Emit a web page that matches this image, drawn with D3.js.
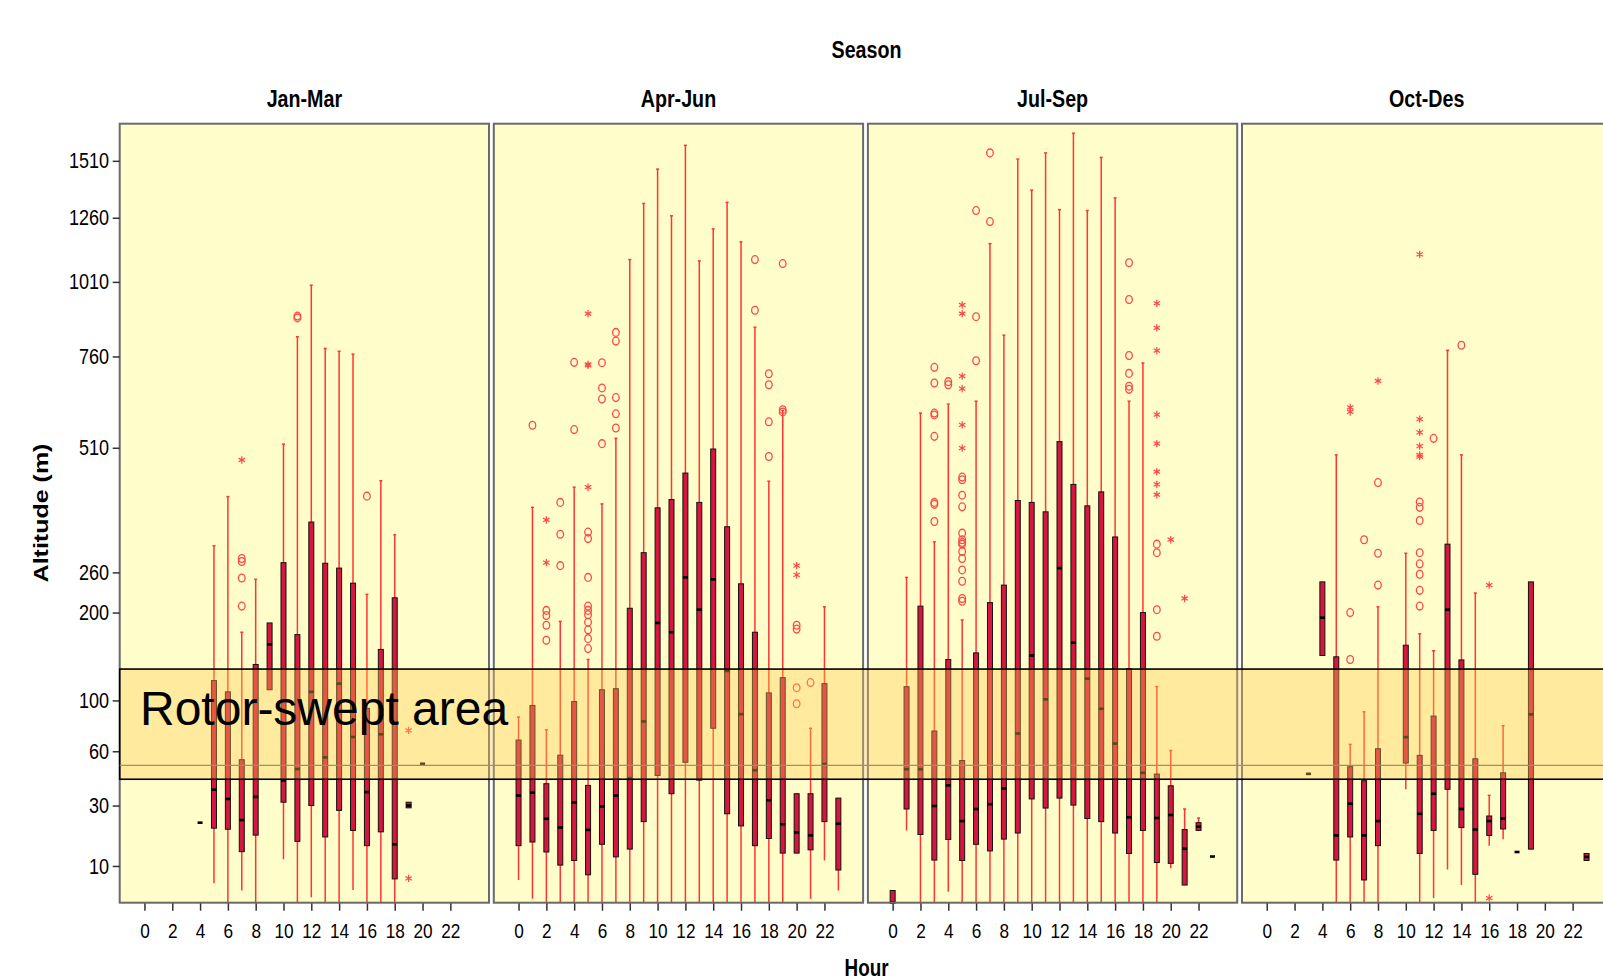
<!DOCTYPE html>
<html>
<head>
<meta charset="utf-8">
<script src="https://cdn.jsdelivr.net/npm/d3@7"></script>
<style>
  body { margin: 0; background: #fff; }
  svg { display: block; }
  text { font-family: "Liberation Sans", Arial, sans-serif; }
</style>
</head>
<body>
<div class="chart"></div>
<script>
//categories and ticks//
let seasons = ['Jan-Mar', 'Apr-Jun', 'Jul-Sep', 'Oct-Des'];
let hours = [0, 1, 2, 3, 4, 5, 6, 7, 8, 9, 10, 11, 12, 13, 14, 15, 16, 17, 18, 19, 20, 21, 22, 23];
let hourTicks = [0, 2, 4, 6, 8, 10, 12, 14, 16, 18, 20, 22];
let altTicks = [10, 30, 60, 100, 200, 260, 510, 760, 1010, 1260, 1510];
let rotorBand = [43, 131];
let refLine = 51;

// [hour, low whisker, q1, median, q3, high whisker]
let janMarBoxes = [
    [4, 23, 23, 23, 23, 23],
    [5, 6.5, 21, 37.5, 119, 305],
    [6, 0, 20.6, 33, 108, 400],
    [7, 5.3, 13.6, 24, 54.5, 174],
    [8, 0, 18.6, 34, 136, 249],
    [9, 110, 110, 159, 186, 186],
    [10, 11.6, 31.5, 42.3, 276, 519],
    [11, 0, 16.6, 48.8, 171, 822],
    [12, 4.3, 30, 108, 349, 998],
    [13, 0, 18, 56, 275, 785],
    [14, 0, 27.9, 116, 267, 776],
    [15, 5.4, 20.2, 70, 243, 767],
    [16, 0, 15.3, 36.3, 93, 226],
    [17, 0, 19.7, 72, 153, 434],
    [18, 0, 7.3, 15.7, 221, 325],
    [19, 29, 29, 30, 31.5, 31.5],
    [20, 52, 52, 52, 52, 52]
];
let janMarOutliers = [[7, 283], [7, 278], [7, 251], [7, 209], [11, 890], [11, 884], [16, 401]];
let janMarExtremes = [[7, 481], [19, 75], [19, 7.4]];

let aprJunBoxes = [
    [0, 7.1, 15.3, 34.6, 67.8, 85.6],
    [1, 4.1, 16.4, 36, 95.5, 378],
    [2, 0, 13.5, 24.5, 40.6, 75.4],
    [3, 0, 10.2, 21.2, 57.4, 188],
    [4, 0, 11.3, 31.4, 99, 420],
    [5, 0, 8.1, 20.4, 39.7, 141.5],
    [6, 0, 15.7, 29.6, 110, 385],
    [7, 0, 12.2, 34.6, 111, 533],
    [8, 0, 14.3, 43.4, 206, 1093],
    [9, 0, 23.4, 82, 293, 1320],
    [10, 0, 45.1, 186, 377, 1472],
    [11, 0, 35.5, 174, 394, 1268],
    [12, 0, 52.9, 252, 451, 1583],
    [13, 0, 42.5, 204, 388, 1088],
    [14, 0, 76.6, 249, 507, 1214],
    [15, 0, 26.5, 129, 340, 1325],
    [16, 0, 21.8, 88, 242, 1162],
    [17, 0, 15.3, 48.1, 174, 853],
    [18, 0, 17.5, 32.4, 107, 433],
    [19, 0, 13.2, 22.4, 122, 605],
    [20, 13.2, 13.2, 19.5, 35.5, 35.5],
    [21, 4.1, 14.1, 18.5, 35.5, 76.6],
    [22, 11.3, 23.4, 51.8, 116, 208],
    [23, 5.3, 9.1, 22.6, 33.4, 33.4]
];
let aprJunOutliers = [
    [1, 566],
    [2, 203], [2, 196], [2, 183], [2, 164],
    [3, 388], [3, 326], [3, 271],
    [4, 742], [4, 555],
    [5, 330], [5, 318], [5, 252], [5, 209], [5, 203], [5, 197], [5, 187], [5, 177], [5, 166], [5, 154],
    [6, 741], [6, 667], [6, 636], [6, 520],
    [7, 836], [7, 808], [7, 640], [7, 596], [7, 559],
    [17, 1093], [17, 910],
    [18, 708], [18, 676], [18, 575], [18, 489],
    [19, 1078], [19, 607], [19, 601],
    [20, 183], [20, 178], [20, 112], [20, 97],
    [21, 117]
];
let aprJunExtremes = [[2, 353], [2, 276], [5, 898], [5, 736], [5, 733], [5, 420], [20, 271], [20, 256]];

let julSepBoxes = [
    [0, 0, 0, 0, 5.3, 5.3],
    [1, 20.2, 28.5, 48.7, 113, 252],
    [2, 0, 18.8, 48.7, 209, 598],
    [3, 0, 11.4, 29.8, 74.5, 312],
    [4, 5.1, 17.2, 39.7, 141.5, 622],
    [5, 0, 11.3, 23.6, 54, 190],
    [6, 0, 15.7, 28.5, 149, 630],
    [7, 0, 13.8, 30.6, 214, 1155],
    [8, 0, 17.3, 38.1, 240, 827],
    [9, 0, 19.3, 72.6, 392, 1518],
    [10, 0, 33, 146, 388, 1378],
    [11, 0, 28.9, 101, 369, 1547],
    [12, 0, 33.4, 267, 525, 1294],
    [13, 0, 30.2, 161, 426, 1641],
    [14, 0, 24.6, 121, 381, 1290],
    [15, 0, 23.4, 92.6, 410, 1526],
    [16, 0, 19.3, 65.3, 321, 1344],
    [17, 0, 13.1, 25.1, 131.5, 630],
    [18, 0, 20.2, 46.6, 200, 740],
    [19, 0, 10.8, 24.8, 45.9, 113],
    [20, 9.5, 10.6, 26, 39.5, 60.5],
    [21, 6.2, 6.2, 14.4, 20.5, 28.5],
    [22, 20, 20.2, 21.5, 23, 24.8],
    [23, 12.3, 12.3, 12.3, 12.3, 12.3]
];
let julSepOutliers = [
    [3, 727], [3, 681], [3, 598], [3, 593], [3, 538], [3, 388], [3, 384], [3, 350],
    [4, 685], [4, 676],
    [5, 442], [5, 436], [5, 403], [5, 379], [5, 328], [5, 316], [5, 311], [5, 308], [5, 295], [5, 283], [5, 264], [5, 246], [5, 220], [5, 216],
    [6, 1290], [6, 888], [6, 747],
    [7, 1547], [7, 1244],
    [17, 1081], [17, 947], [17, 763], [17, 709], [17, 672], [17, 663],
    [19, 308], [19, 293], [19, 204], [19, 169]
];
let julSepExtremes = [
    [5, 928], [5, 898], [5, 701], [5, 665], [5, 567], [5, 509],
    [19, 934], [19, 851], [19, 778], [19, 594], [19, 520], [19, 454], [19, 426], [19, 404],
    [20, 316], [21, 220]
];

let octDesBoxes = [
    [3, 46, 46, 46, 46, 46],
    [4, 146, 146, 193, 245, 245],
    [5, 0, 11.4, 18.5, 144.5, 493],
    [6, 0, 18, 30.8, 50.2, 64.7],
    [7, 0, 7.1, 18.5, 42.2, 90],
    [8, 0, 15.3, 23.6, 61.7, 208],
    [10, 37.7, 52.4, 69.9, 158, 292],
    [11, 0, 13.1, 26.5, 57.3, 172],
    [12, 4.2, 20.2, 35.5, 86.4, 151.5],
    [13, 9.2, 37.7, 204, 308, 779],
    [14, 6.2, 21.2, 28.5, 141, 493],
    [15, 0, 8.2, 20.5, 55.1, 228],
    [16, 15.3, 18.5, 23.6, 25.6, 34.7],
    [17, 17.3, 20.7, 24.6, 46.6, 78.6],
    [18, 13.5, 13.5, 13.5, 13.5, 13.5],
    [19, 14.3, 14.3, 87.8, 245, 245],
    [23, 11.3, 11.3, 12.2, 13.1, 13.1]
];
let octDesOutliers = [
    [6, 200], [6, 141.5],
    [7, 316],
    [8, 430], [8, 292], [8, 240],
    [11, 389], [11, 378], [11, 352], [11, 293], [11, 274], [11, 257], [11, 232], [11, 209],
    [12, 533],
    [14, 795]
];
let octDesExtremes = [
    [6, 613], [6, 601],
    [8, 687],
    [11, 1113], [11, 582], [11, 548], [11, 514], [11, 493], [11, 489],
    [16, 240], [16, 4.2]
];

let boxSets = [janMarBoxes, aprJunBoxes, julSepBoxes, octDesBoxes];
let outlierSets = [janMarOutliers, aprJunOutliers, julSepOutliers, octDesOutliers];
let extremeSets = [janMarExtremes, aprJunExtremes, julSepExtremes, octDesExtremes];

//layout//
let w = 1603;
let h = 980;
let plotTop = 123.7;
let plotBottom = 902.7;
let panelLeft = 119.7;
let panelW = 369.3;
let panelGap = 4.8;
let squeeze = 'scale(0.82,1)';

let svg = d3.select('.chart')
    .append('svg')
    .attr('width', w)
    .attr('height', h);

let yScale = d3.scalePow()
    .exponent(0.4)
    .domain([3.6, 1688])
    .range([plotBottom, plotTop])
    .clamp(true);

let xScale = d3.scalePoint()
    .domain(hours)
    .range([0, panelW])
    .padding(1.78);

let star = d3.symbol().type(d3.symbolAsterisk || d3.symbolStar).size(38);

//titles//
svg.append('text')
    .attr('transform', 'translate(866.5,58) ' + squeeze)
    .attr('text-anchor', 'middle')
    .style('font-size', '24px')
    .style('font-weight', 'bold')
    .text('Season');

svg.append('text')
    .attr('transform', 'translate(866.5,976) ' + squeeze)
    .attr('text-anchor', 'middle')
    .style('font-size', '23px')
    .style('font-weight', 'bold')
    .text('Hour');

svg.append('text')
    .attr('transform', 'translate(48,513) scale(0.82,1) rotate(-90)')
    .attr('text-anchor', 'middle')
    .style('font-size', '25px')
    .style('font-weight', 'bold')
    .text('Altitude (m)');

let panels = svg.selectAll('g.panel')
    .data(seasons)
    .enter()
    .append('g')
    .attr('class', 'panel')
    .attr('transform', (d, i) => 'translate(' + (panelLeft + i * (panelW + panelGap)) + ',0)');

panels.append('rect')
    .attr('x', 0)
    .attr('y', plotTop)
    .attr('width', panelW)
    .attr('height', plotBottom - plotTop)
    .style('fill', '#fffdca');

panels.append('text')
    .attr('transform', 'translate(' + panelW / 2 + ',107) ' + squeeze)
    .attr('text-anchor', 'middle')
    .style('font-size', '24px')
    .style('font-weight', 'bold')
    .text(d => d);

panels.each(function (season, i) {
    let g = d3.select(this);
    let boxes = boxSets[i];

    // whiskers
    g.selectAll('line.whisker')
        .data(boxes)
        .enter()
        .append('line')
        .attr('class', 'whisker')
        .attr('x1', d => xScale(d[0]))
        .attr('x2', d => xScale(d[0]))
        .attr('y1', d => yScale(d[1]))
        .attr('y2', d => yScale(d[5]))
        .style('stroke', '#ff3535')
        .style('stroke-width', 1.5);

    g.selectAll('line.cap')
        .data(boxes.filter(d => d[5] > d[4]))
        .enter()
        .append('line')
        .attr('class', 'cap')
        .attr('x1', d => xScale(d[0]) - 1.5)
        .attr('x2', d => xScale(d[0]) + 1.5)
        .attr('y1', d => yScale(d[5]))
        .attr('y2', d => yScale(d[5]))
        .style('stroke', '#ff3535')
        .style('stroke-width', 1.5);

    // boxes
    g.selectAll('rect.box')
        .data(boxes)
        .enter()
        .append('rect')
        .attr('class', 'box')
        .attr('x', d => xScale(d[0]) - 2.5)
        .attr('y', d => yScale(d[4]))
        .attr('width', 5)
        .attr('height', d => yScale(d[2]) - yScale(d[4]))
        .style('fill', '#d7163f')
        .style('stroke', '#111')
        .style('stroke-width', 1);

    // medians
    g.selectAll('rect.median')
        .data(boxes)
        .enter()
        .append('rect')
        .attr('class', 'median')
        .attr('x', d => xScale(d[0]) - 2.5)
        .attr('y', d => yScale(d[3]) - 1.3)
        .attr('width', 5)
        .attr('height', 2.6)
        .style('fill', '#000');

    // outliers
    g.selectAll('ellipse.outlier')
        .data(outlierSets[i])
        .enter()
        .append('ellipse')
        .attr('class', 'outlier')
        .attr('cx', d => xScale(d[0]))
        .attr('cy', d => yScale(d[1]))
        .attr('rx', 3.3)
        .attr('ry', 3.9)
        .style('fill', 'none')
        .style('stroke', '#ff4646')
        .style('stroke-width', 1.3);

    // extremes
    g.selectAll('path.extreme')
        .data(extremeSets[i])
        .enter()
        .append('path')
        .attr('class', 'extreme')
        .attr('d', star)
        .attr('transform', d => 'translate(' + xScale(d[0]) + ',' + yScale(d[1]) + ')')
        .style('fill', '#ff4646')
        .style('stroke', '#ff4646')
        .style('stroke-width', 1.2);

    // x axis
    let xAxis = d3.axisBottom(xScale)
        .tickValues(hourTicks)
        .tickSize(8)
        .tickPadding(12)
        .tickSizeOuter(0);

    let ax = g.append('g')
        .attr('transform', 'translate(0,' + plotBottom + ')')
        .call(xAxis);
    ax.select('.domain').remove();
    ax.selectAll('line').style('stroke', '#333').style('stroke-width', 1.5);
    ax.selectAll('text')
        .attr('transform', squeeze)
        .style('font-size', '21px')
        .style('fill', '#000');
});

//y axis//
let yAxis = d3.axisLeft(yScale)
    .tickValues(altTicks)
    .tickFormat(d3.format('d'))
    .tickSize(7)
    .tickPadding(6);

let ay = svg.append('g')
    .attr('transform', 'translate(' + panelLeft + ',0)')
    .call(yAxis);
ay.select('.domain').remove();
ay.selectAll('line').style('stroke', '#333').style('stroke-width', 1.5);
ay.selectAll('text')
    .attr('transform', squeeze)
    .style('font-size', '22px')
    .style('fill', '#000');

//rotor-swept band//
svg.append('rect')
    .attr('x', panelLeft)
    .attr('y', yScale(rotorBand[1]))
    .attr('width', w - panelLeft + 10)
    .attr('height', yScale(rotorBand[0]) - yScale(rotorBand[1]))
    .style('fill', 'rgb(255,200,80)')
    .style('fill-opacity', 0.36)
    .style('stroke', '#000')
    .style('stroke-width', 1.6);

svg.append('line')
    .attr('x1', panelLeft)
    .attr('x2', w)
    .attr('y1', yScale(refLine))
    .attr('y2', yScale(refLine))
    .style('stroke', '#a08f6c')
    .style('stroke-width', 1.2);

svg.append('text')
    .attr('x', 140)
    .attr('y', 725)
    .style('font-size', '48px')
    .style('fill', '#000')
    .text('Rotor-swept area');

//frames//
panels.append('rect')
    .attr('x', 0)
    .attr('y', plotTop)
    .attr('width', panelW)
    .attr('height', plotBottom - plotTop)
    .style('fill', 'none')
    .style('stroke', '#6a6a6a')
    .style('stroke-width', 2);
</script>
</body>
</html>
